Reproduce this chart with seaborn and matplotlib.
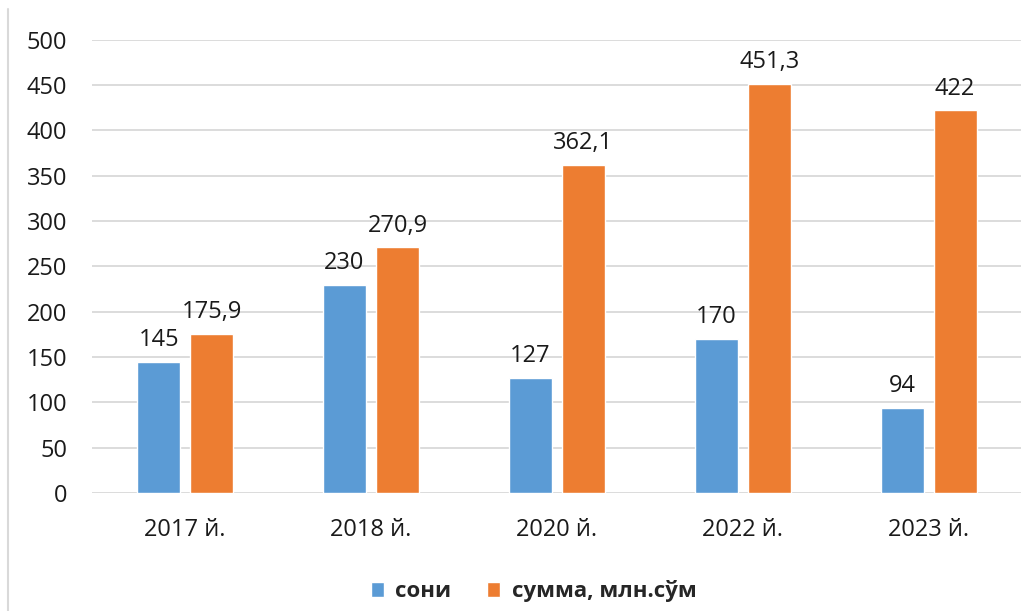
import matplotlib
matplotlib.use("Agg")
import matplotlib.pyplot as plt
import pandas as pd
import seaborn as sns
from matplotlib.lines import Line2D

# дані з діаграми
years = ["2017 й.", "2018 й.", "2020 й.", "2022 й.", "2023 й."]
soni = [145, 230, 127, 170, 94]
summa = [175.9, 270.9, 362.1, 451.3, 422]
series_names = ["сони", "сумма, млн.сўм"]

df = pd.DataFrame({
    "year": years * 2,
    "value": soni + summa,
    "series": [series_names[0]] * len(years) + [series_names[1]] * len(years),
})

sns.set_style("white")
plt.rcParams["font.family"] = ["Open Sans", "DejaVu Sans"]

fig = plt.figure(figsize=(10.36, 6.11), dpi=100)
ax = fig.add_axes([0.089, 0.193, 0.897, 0.742])

sns.barplot(data=df, x="year", y="value", hue="series", ax=ax,
            palette=["#5B9BD5", "#ED7D31"], width=0.57, gap=0.19,
            saturation=1, legend=True)

for cont in ax.containers:
    ax.bar_label(cont, labels=[f"{v:g}".replace(".", ",") for v in cont.datavalues],
                 padding=7, fontsize=17, color="#1a1a1a")

ax.set_ylim(0, 500)
ax.set_yticks(range(0, 501, 50))
ax.yaxis.grid(True, color="#d9d9d9", linewidth=1.3)
ax.set_axisbelow(True)
ax.set_xlim(-0.5, len(years) - 0.5)
for s in ax.spines.values():
    s.set_visible(False)
ax.set_xlabel("")
ax.set_ylabel("")
ax.tick_params(axis="y", labelsize=17, length=0, pad=18, labelcolor="#1a1a1a")
ax.tick_params(axis="x", labelsize=17, length=0, pad=18, labelcolor="#1a1a1a")

handles, labels = ax.get_legend_handles_labels()
ax.legend(handles, labels, loc="lower center", bbox_to_anchor=(0.475, -0.285),
          ncol=2, frameon=False, prop={"size": 16, "weight": "bold"},
          handlelength=0.6, handleheight=0.6, columnspacing=1.6, handletextpad=0.5)

fig.add_artist(Line2D([0.008, 0.008], [0.0, 0.985], color="#d9d9d9", linewidth=1.5,
                      transform=fig.transFigure))

fig.savefig("out.png", dpi=100)
